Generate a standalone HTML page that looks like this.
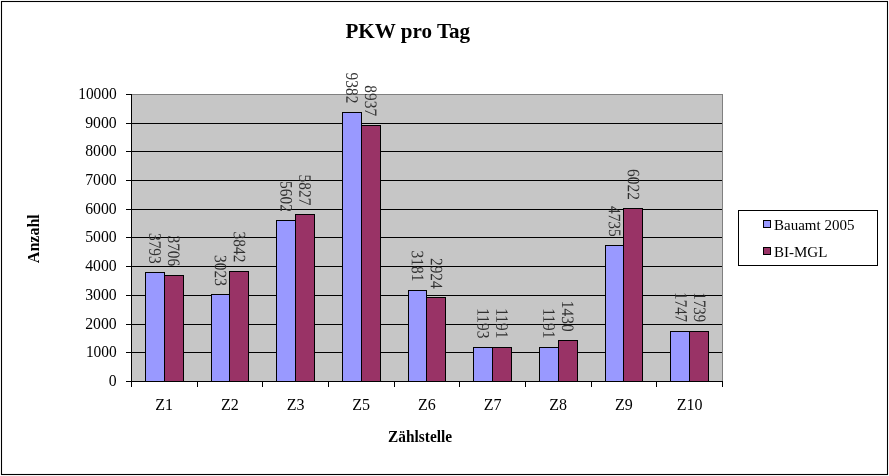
<!DOCTYPE html>
<html lang="de"><head><meta charset="utf-8"><title>PKW pro Tag</title>
<style>html,body{margin:0;padding:0;background:#fff;overflow:hidden}</style></head>
<body>
<svg width="889" height="476" viewBox="0 0 889 476" style="display:block">
<rect x="0" y="0" width="889" height="476" fill="#fff"/>
<rect x="1.5" y="1.5" width="886" height="473" fill="#fff" stroke="#000" stroke-width="1.1"/>
<rect x="131.5" y="94.5" width="591" height="287" fill="#c6c6c6" stroke="#808080" stroke-width="1"/>
<line x1="131" x2="722" y1="352.5" y2="352.5" stroke="#000" stroke-width="1"/>
<line x1="131" x2="722" y1="324.5" y2="324.5" stroke="#000" stroke-width="1"/>
<line x1="131" x2="722" y1="295.5" y2="295.5" stroke="#000" stroke-width="1"/>
<line x1="131" x2="722" y1="266.5" y2="266.5" stroke="#000" stroke-width="1"/>
<line x1="131" x2="722" y1="237.5" y2="237.5" stroke="#000" stroke-width="1"/>
<line x1="131" x2="722" y1="209.5" y2="209.5" stroke="#000" stroke-width="1"/>
<line x1="131" x2="722" y1="180.5" y2="180.5" stroke="#000" stroke-width="1"/>
<line x1="131" x2="722" y1="151.5" y2="151.5" stroke="#000" stroke-width="1"/>
<line x1="131" x2="722" y1="123.5" y2="123.5" stroke="#000" stroke-width="1"/>
<rect x="145.5" y="272.5" width="19.0" height="109.0" fill="#9999ff" stroke="#000" stroke-width="1"/>
<rect x="164.5" y="275.5" width="19.0" height="106.0" fill="#993366" stroke="#000" stroke-width="1"/>
<rect x="211.5" y="294.5" width="18.0" height="87.0" fill="#9999ff" stroke="#000" stroke-width="1"/>
<rect x="229.5" y="271.5" width="19.0" height="110.0" fill="#993366" stroke="#000" stroke-width="1"/>
<rect x="276.5" y="220.5" width="19.0" height="161.0" fill="#9999ff" stroke="#000" stroke-width="1"/>
<rect x="295.5" y="214.5" width="19.0" height="167.0" fill="#993366" stroke="#000" stroke-width="1"/>
<rect x="342.5" y="112.5" width="19.0" height="269.0" fill="#9999ff" stroke="#000" stroke-width="1"/>
<rect x="361.5" y="125.5" width="19.0" height="256.0" fill="#993366" stroke="#000" stroke-width="1"/>
<rect x="408.5" y="290.5" width="18.0" height="91.0" fill="#9999ff" stroke="#000" stroke-width="1"/>
<rect x="426.5" y="297.5" width="19.0" height="84.0" fill="#993366" stroke="#000" stroke-width="1"/>
<rect x="473.5" y="347.5" width="19.0" height="34.0" fill="#9999ff" stroke="#000" stroke-width="1"/>
<rect x="492.5" y="347.5" width="19.0" height="34.0" fill="#993366" stroke="#000" stroke-width="1"/>
<rect x="539.5" y="347.5" width="19.0" height="34.0" fill="#9999ff" stroke="#000" stroke-width="1"/>
<rect x="558.5" y="340.5" width="19.0" height="41.0" fill="#993366" stroke="#000" stroke-width="1"/>
<rect x="605.5" y="245.5" width="18.0" height="136.0" fill="#9999ff" stroke="#000" stroke-width="1"/>
<rect x="623.5" y="208.5" width="19.0" height="173.0" fill="#993366" stroke="#000" stroke-width="1"/>
<rect x="670.5" y="331.5" width="19.0" height="50.0" fill="#9999ff" stroke="#000" stroke-width="1"/>
<rect x="689.5" y="331.5" width="19.0" height="50.0" fill="#993366" stroke="#000" stroke-width="1"/>
<line x1="131.5" x2="131.5" y1="94" y2="382" stroke="#000"/>
<line x1="131" x2="723" y1="381.5" y2="381.5" stroke="#000"/>
<line x1="126" x2="131" y1="381.5" y2="381.5" stroke="#000"/>
<text transform="translate(116.7,386.2) scale(0.985,1)" text-anchor="end" font-size="16" font-family="Liberation Serif, serif">0</text>
<line x1="126" x2="131" y1="352.5" y2="352.5" stroke="#000"/>
<text transform="translate(116.7,357.2) scale(0.963,1)" text-anchor="end" font-size="16" font-family="Liberation Serif, serif">1000</text>
<line x1="126" x2="131" y1="324.5" y2="324.5" stroke="#000"/>
<text transform="translate(116.7,329.2) scale(0.985,1)" text-anchor="end" font-size="16" font-family="Liberation Serif, serif">2000</text>
<line x1="126" x2="131" y1="295.5" y2="295.5" stroke="#000"/>
<text transform="translate(116.7,300.2) scale(0.985,1)" text-anchor="end" font-size="16" font-family="Liberation Serif, serif">3000</text>
<line x1="126" x2="131" y1="266.5" y2="266.5" stroke="#000"/>
<text transform="translate(116.7,271.2) scale(0.985,1)" text-anchor="end" font-size="16" font-family="Liberation Serif, serif">4000</text>
<line x1="126" x2="131" y1="237.5" y2="237.5" stroke="#000"/>
<text transform="translate(116.7,242.2) scale(0.985,1)" text-anchor="end" font-size="16" font-family="Liberation Serif, serif">5000</text>
<line x1="126" x2="131" y1="209.5" y2="209.5" stroke="#000"/>
<text transform="translate(116.7,214.2) scale(0.985,1)" text-anchor="end" font-size="16" font-family="Liberation Serif, serif">6000</text>
<line x1="126" x2="131" y1="180.5" y2="180.5" stroke="#000"/>
<text transform="translate(116.7,185.2) scale(0.985,1)" text-anchor="end" font-size="16" font-family="Liberation Serif, serif">7000</text>
<line x1="126" x2="131" y1="151.5" y2="151.5" stroke="#000"/>
<text transform="translate(116.7,156.2) scale(0.985,1)" text-anchor="end" font-size="16" font-family="Liberation Serif, serif">8000</text>
<line x1="126" x2="131" y1="123.5" y2="123.5" stroke="#000"/>
<text transform="translate(116.7,128.2) scale(0.985,1)" text-anchor="end" font-size="16" font-family="Liberation Serif, serif">9000</text>
<line x1="126" x2="131" y1="94.5" y2="94.5" stroke="#000"/>
<text transform="translate(116.7,99.2) scale(0.963,1)" text-anchor="end" font-size="16" font-family="Liberation Serif, serif">10000</text>
<line x1="131.5" x2="131.5" y1="381" y2="387" stroke="#000"/>
<line x1="197.5" x2="197.5" y1="381" y2="387" stroke="#000"/>
<line x1="262.5" x2="262.5" y1="381" y2="387" stroke="#000"/>
<line x1="328.5" x2="328.5" y1="381" y2="387" stroke="#000"/>
<line x1="394.5" x2="394.5" y1="381" y2="387" stroke="#000"/>
<line x1="459.5" x2="459.5" y1="381" y2="387" stroke="#000"/>
<line x1="525.5" x2="525.5" y1="381" y2="387" stroke="#000"/>
<line x1="591.5" x2="591.5" y1="381" y2="387" stroke="#000"/>
<line x1="656.5" x2="656.5" y1="381" y2="387" stroke="#000"/>
<line x1="722.5" x2="722.5" y1="381" y2="387" stroke="#000"/>
<text x="164.2" y="409.6" text-anchor="middle" font-size="16" font-family="Liberation Serif, serif">Z1</text>
<text x="229.9" y="409.6" text-anchor="middle" font-size="16" font-family="Liberation Serif, serif">Z2</text>
<text x="295.6" y="409.6" text-anchor="middle" font-size="16" font-family="Liberation Serif, serif">Z3</text>
<text x="361.2" y="409.6" text-anchor="middle" font-size="16" font-family="Liberation Serif, serif">Z5</text>
<text x="426.9" y="409.6" text-anchor="middle" font-size="16" font-family="Liberation Serif, serif">Z6</text>
<text x="492.6" y="409.6" text-anchor="middle" font-size="16" font-family="Liberation Serif, serif">Z7</text>
<text x="558.2" y="409.6" text-anchor="middle" font-size="16" font-family="Liberation Serif, serif">Z8</text>
<text x="623.9" y="409.6" text-anchor="middle" font-size="16" font-family="Liberation Serif, serif">Z9</text>
<text x="689.6" y="409.6" text-anchor="middle" font-size="16" font-family="Liberation Serif, serif">Z10</text>
<text transform="translate(149.3,263.8) rotate(89.9) scale(0.965,1.09)" text-anchor="end" fill="#303030" font-size="16" font-family="Liberation Serif, serif">3793</text>
<text transform="translate(168.0,266.3) rotate(89.9) scale(0.965,1.09)" text-anchor="end" fill="#303030" font-size="16" font-family="Liberation Serif, serif">3706</text>
<text transform="translate(214.9,285.9) rotate(89.9) scale(0.965,1.09)" text-anchor="end" fill="#303030" font-size="16" font-family="Liberation Serif, serif">3023</text>
<text transform="translate(233.7,262.4) rotate(89.9) scale(0.965,1.09)" text-anchor="end" fill="#303030" font-size="16" font-family="Liberation Serif, serif">3842</text>
<text transform="translate(280.6,211.9) rotate(89.9) scale(0.965,1.09)" text-anchor="end" fill="#303030" font-size="16" font-family="Liberation Serif, serif">5602</text>
<text transform="translate(299.3,205.5) rotate(89.9) scale(0.965,1.09)" text-anchor="end" fill="#303030" font-size="16" font-family="Liberation Serif, serif">5827</text>
<text transform="translate(346.3,103.4) rotate(89.9) scale(0.965,1.09)" text-anchor="end" fill="#303030" font-size="16" font-family="Liberation Serif, serif">9382</text>
<text transform="translate(365.0,116.2) rotate(89.9) scale(0.965,1.09)" text-anchor="end" fill="#303030" font-size="16" font-family="Liberation Serif, serif">8937</text>
<text transform="translate(411.9,281.4) rotate(89.9) scale(0.965,1.09)" text-anchor="end" fill="#303030" font-size="16" font-family="Liberation Serif, serif">3181</text>
<text transform="translate(430.7,288.8) rotate(89.9) scale(0.965,1.09)" text-anchor="end" fill="#303030" font-size="16" font-family="Liberation Serif, serif">2924</text>
<text transform="translate(477.6,338.5) rotate(89.9) scale(0.965,1.09)" text-anchor="end" fill="#303030" font-size="16" font-family="Liberation Serif, serif">1193</text>
<text transform="translate(496.3,338.5) rotate(89.9) scale(0.965,1.09)" text-anchor="end" fill="#303030" font-size="16" font-family="Liberation Serif, serif">1191</text>
<text transform="translate(543.3,338.5) rotate(89.9) scale(0.965,1.09)" text-anchor="end" fill="#303030" font-size="16" font-family="Liberation Serif, serif">1191</text>
<text transform="translate(562.0,331.7) rotate(89.9) scale(0.965,1.09)" text-anchor="end" fill="#303030" font-size="16" font-family="Liberation Serif, serif">1430</text>
<text transform="translate(608.9,236.8) rotate(89.9) scale(0.965,1.09)" text-anchor="end" fill="#303030" font-size="16" font-family="Liberation Serif, serif">4735</text>
<text transform="translate(627.7,199.9) rotate(89.9) scale(0.965,1.09)" text-anchor="end" fill="#303030" font-size="16" font-family="Liberation Serif, serif">6022</text>
<text transform="translate(675.4,322.0) rotate(89.9) scale(0.93,1.09)" text-anchor="end" fill="#303030" font-size="16" font-family="Liberation Serif, serif">1747</text>
<text transform="translate(694.1,322.2) rotate(89.9) scale(0.93,1.09)" text-anchor="end" fill="#303030" font-size="16" font-family="Liberation Serif, serif">1739</text>
<text x="407.8" y="38.0" text-anchor="middle" font-size="21.1" font-weight="bold" font-family="Liberation Serif, serif">PKW pro Tag</text>
<text transform="translate(420.1,441.9) scale(0.96,1)" text-anchor="middle" font-size="16" font-weight="bold" font-family="Liberation Serif, serif">Zählstelle</text>
<text transform="translate(38.5,238.7) rotate(-90)" text-anchor="middle" font-size="16" font-weight="bold" font-family="Liberation Serif, serif">Anzahl</text>
<rect x="738.5" y="210.5" width="139" height="55" fill="#fff" stroke="#000"/>
<rect x="763.5" y="220.5" width="7" height="7" fill="#9999ff" stroke="#000"/>
<rect x="763.5" y="247.5" width="7" height="7" fill="#993366" stroke="#000"/>
<text x="774" y="230.1" font-size="15" font-family="Liberation Serif, serif">Bauamt 2005</text>
<text x="774" y="257.1" font-size="15" font-family="Liberation Serif, serif">BI-MGL</text>
</svg>
</body></html>
